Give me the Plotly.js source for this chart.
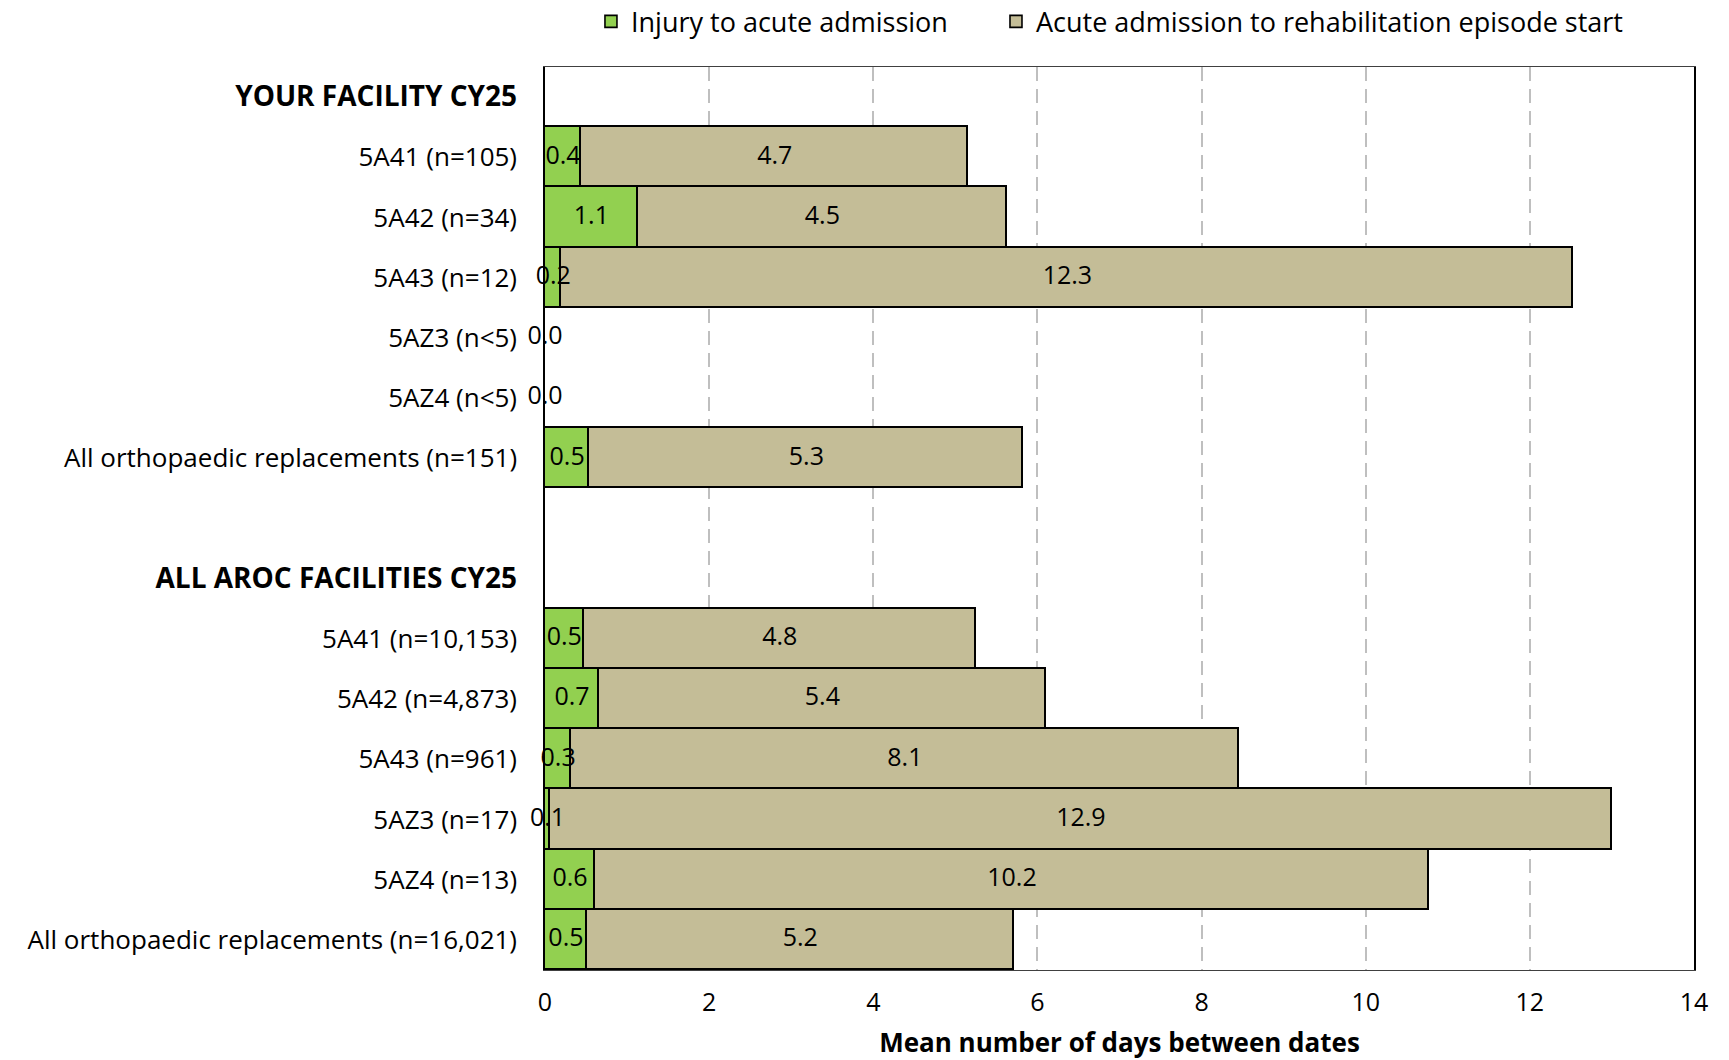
<!DOCTYPE html>
<html>
<head>
<meta charset="utf-8">
<script src="https://cdn.plot.ly/plotly-3.0.1.min.js"></script>
<style>html,body{margin:0;padding:0;background:#fff;}#chart{width:1729px;height:1060px;}</style>
</head>
<body>
<div id="chart"></div>
<script>
// Row labels (top to bottom); header rows and the spacer carry no values
const categories = [
  "YOUR FACILITY CY25",
  "5A41 (n=105)",
  "5A42 (n=34)",
  "5A43 (n=12)",
  "5AZ3 (n<5)",
  "5AZ4 (n<5)",
  "All orthopaedic replacements (n=151)",
  " ",
  "ALL AROC FACILITIES CY25",
  "5A41 (n=10,153)",
  "5A42 (n=4,873)",
  "5A43 (n=961)",
  "5AZ3 (n=17)",
  "5AZ4 (n=13)",
  "All orthopaedic replacements (n=16,021)"
];
const headerRows = ["YOUR FACILITY CY25", "ALL AROC FACILITIES CY25"];

// Mean days: injury to acute admission
const injuryToAcute = [null, 0.44, 1.13, 0.20, 0.0, 0.0, 0.54, null, null, 0.47, 0.66, 0.32, 0.06, 0.61, 0.51];
// Mean days: acute admission to rehabilitation episode start
const acuteToRehab  = [null, 4.72, 4.50, 12.33, 0.0, 0.0, 5.29, null, null, 4.78, 5.44, 8.13, 12.94, 10.16, 5.20];

const seriesNames = ["Injury to acute admission", "Acute admission to rehabilitation episode start"];
const xTicks = [0, 2, 4, 6, 8, 10, 12, 14];

const FONT = "'Open Sans', sans-serif";

const tickText = categories.map(c => headerRows.includes(c)
  ? '<span style="font-size:28px"><b>' + c + '</b></span>' : c);

function barTrace(name, vals, color, legendId) {
  return {
    type: 'bar', orientation: 'h', name: name, legend: legendId,
    y: categories, x: vals,
    marker: {color: color, line: {color: '#000000', width: 1.6}},
    hoverinfo: 'x+name'
  };
}

// Data labels centred on each segment, drawn above all bars
const rows = categories.map((c, i) => i).filter(i => injuryToAcute[i] !== null);
const fmt = v => v.toFixed(1);
const labelFont = {family: FONT, size: 25, color: '#000000'};
const greenLabels = {
  type: 'scatter', mode: 'text', showlegend: false, hoverinfo: 'skip', cliponaxis: false,
  y: rows.map(i => categories[i]),
  x: rows.map(i => injuryToAcute[i] / 2),
  text: rows.map(i => fmt(injuryToAcute[i])),
  textposition: 'middle center', textfont: labelFont
};
const tanRows = rows.filter(i => acuteToRehab[i] > 0);
const tanLabels = {
  type: 'scatter', mode: 'text', showlegend: false, hoverinfo: 'skip', cliponaxis: false,
  y: tanRows.map(i => categories[i]),
  x: tanRows.map(i => injuryToAcute[i] + acuteToRehab[i] / 2),
  text: tanRows.map(i => fmt(acuteToRehab[i])),
  textposition: 'middle center', textfont: labelFont
};

const data = [
  barTrace(seriesNames[0], injuryToAcute, '#92D050', 'legend'),
  barTrace(seriesNames[1], acuteToRehab, '#C4BD97', 'legend2'),
  greenLabels, tanLabels
];

const legendFont = {family: FONT, size: 27, color: '#000'};
const layout = {
  width: 1729, height: 1060,
  margin: {l: 545, r: 35, t: 67, b: 90, autoexpand: false},
  paper_bgcolor: '#ffffff', plot_bgcolor: '#ffffff',
  font: {family: FONT, size: 26, color: '#000000'},
  barmode: 'stack', bargap: 0,
  showlegend: true,
  legend: {
    orientation: 'h', x: 0.04, xanchor: 'left', y: 1.05, yanchor: 'middle',
    font: legendFont, itemwidth: 30, bgcolor: 'rgba(0,0,0,0)'
  },
  legend2: {
    orientation: 'h', x: 0.3925, xanchor: 'left', y: 1.05, yanchor: 'middle',
    font: legendFont, itemwidth: 30, bgcolor: 'rgba(0,0,0,0)'
  },
  xaxis: {
    range: [0, 14], tickvals: xTicks, ticktext: xTicks.map(String),
    showgrid: true, gridcolor: '#BFBFBF', griddash: '14px,8px', gridwidth: 2,
    zeroline: false, showline: true, linecolor: '#404040', linewidth: 1, mirror: true,
    ticks: '', ticklabelstandoff: 10,
    tickfont: {family: FONT, size: 25, color: '#000'},
    title: {text: '<b>Mean number of days between dates</b>', font: {family: FONT, size: 26, color: '#000'}, standoff: 16}
  },
  yaxis: {
    type: 'category', categoryorder: 'array', categoryarray: categories,
    tickvals: categories, ticktext: tickText,
    range: [14.5, -0.5],
    showgrid: false, zeroline: false, showline: true, linecolor: '#000', linewidth: 1.5, mirror: true,
    ticks: '', ticklabelstandoff: 21,
    tickfont: {family: FONT, size: 26, color: '#000'}
  }
};

Plotly.newPlot('chart', data, layout, {displayModeBar: false, responsive: false});
</script>
</body>
</html>
